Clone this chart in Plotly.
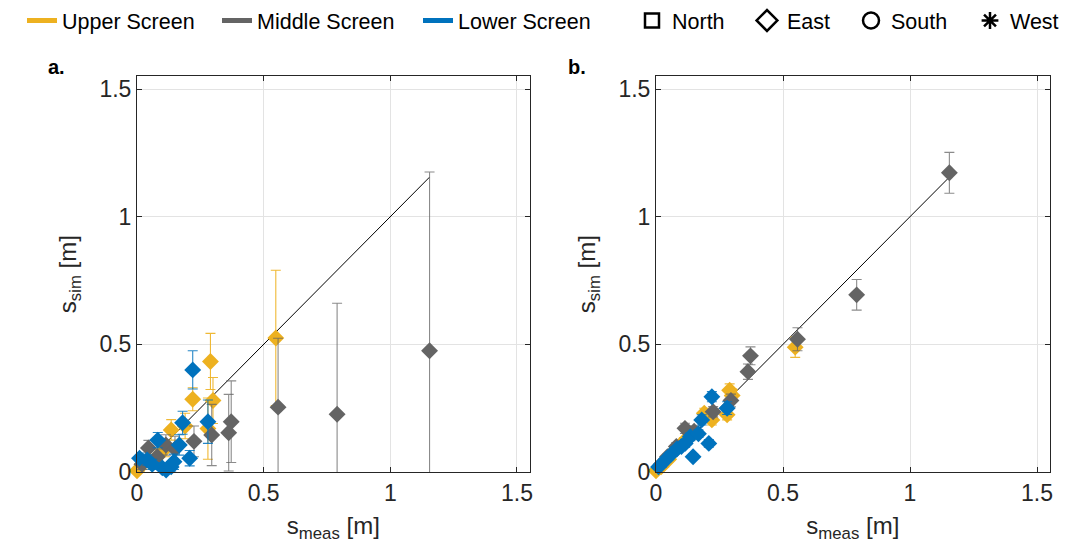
import plotly.graph_objects as go

# ---- measured vs simulated drawdown, per screen level ----
# Upper screen
upper_meas = [0.00, 0.02, 0.05, 0.08, 0.11, 0.135, 0.19, 0.22, 0.28, 0.29, 0.30, 0.548]
upper_sim_a = [0.005, 0.03, 0.04, 0.06, 0.09, 0.165, 0.18, 0.285, 0.17, 0.433, 0.28, 0.525]
upper_err_a = [0.01, 0.02, 0.02, 0.03, 0.03, 0.04, 0.05, 0.045, 0.12, 0.11, 0.09, 0.265]
upper_sim_b = [0.005, 0.02, 0.05, 0.09, 0.12, 0.14, 0.23, 0.204, 0.224, 0.32, 0.30, 0.489]
upper_err_b = [0.005, 0.01, 0.01, 0.01, 0.015, 0.015, 0.02, 0.02, 0.02, 0.025, 0.025, 0.04]

# Middle screen
middle_meas = [0.02, 0.045, 0.08, 0.114, 0.15, 0.225, 0.295, 0.362, 0.372, 0.557, 0.79, 1.155]
middle_sim_a = [0.03, 0.094, 0.06, 0.106, 0.09, 0.12, 0.145, 0.154, 0.197, 0.254, 0.226, 0.475]
middle_err_a = [0.02, 0.03, 0.03, 0.04, 0.05, 0.06, 0.12, 0.15, 0.16, 0.27, 0.435, 0.70]
middle_sim_b = [0.03, 0.06, 0.10, 0.171, 0.16, 0.236, 0.28, 0.393, 0.455, 0.52, 0.694, 1.172]
middle_err_b = [0.01, 0.01, 0.015, 0.02, 0.02, 0.02, 0.025, 0.03, 0.035, 0.045, 0.06, 0.08]

# Lower screen
lower_meas = [0.01, 0.04, 0.06, 0.082, 0.10, 0.115, 0.135, 0.146, 0.167, 0.18, 0.208, 0.22, 0.28]
lower_sim_a = [0.054, 0.047, 0.03, 0.125, 0.016, 0.008, 0.02, 0.04, 0.106, 0.193, 0.054, 0.40, 0.197]
lower_err_a = [0.02, 0.02, 0.02, 0.03, 0.02, 0.02, 0.02, 0.03, 0.04, 0.045, 0.03, 0.075, 0.085]
lower_sim_b = [0.02, 0.05, 0.07, 0.09, 0.10, 0.112, 0.138, 0.06, 0.15, 0.204, 0.112, 0.295, 0.25]
lower_err_b = [0.005, 0.01, 0.01, 0.01, 0.01, 0.015, 0.015, 0.01, 0.015, 0.02, 0.015, 0.02, 0.025]

tick_vals = [0, 0.5, 1, 1.5]
tick_text = ["0", "0.5", "1", "1.5"]
axis_range = [0, 1.55]

screens = [
    ("Upper Screen", "#EDB120", "rgba(237,177,32,0.9)",
     upper_meas, upper_sim_a, upper_err_a, upper_sim_b, upper_err_b),
    ("Middle Screen", "#646464", "rgba(100,100,100,0.75)",
     middle_meas, middle_sim_a, middle_err_a, middle_sim_b, middle_err_b),
    ("Lower Screen", "#0072BD", "rgba(0,114,189,0.85)",
     lower_meas, lower_sim_a, lower_err_a, lower_sim_b, lower_err_b),
]

orientations = [("North", "square-open", 14), ("East", "diamond-open", 16),
                ("South", "circle-open", 16), ("West", "asterisk-open", 14)]

# left edge (px) of each legend entry along the top row
legend_x_px = [22, 217, 418, 632, 747, 851, 970]

FONT = "Liberation Sans, Arial, sans-serif"
TXT = "#262626"
W, H = 1078, 550

fig = go.Figure()

# 1:1 reference line spanning the measured range
max_meas = max(upper_meas + middle_meas + lower_meas)
for xa, ya in [("x", "y"), ("x2", "y2")]:
    fig.add_trace(go.Scatter(x=[0, max_meas], y=[0, max_meas], mode="lines",
                             line=dict(color="black", width=1),
                             xaxis=xa, yaxis=ya, showlegend=False, hoverinfo="skip"))

for name, col, ecol, meas, sa, ea, sb, eb in screens:
    for xa, ya, sim, err in [("x", "y", sa, ea), ("x2", "y2", sb, eb)]:
        # error bars (clipped to the axes)
        fig.add_trace(go.Scatter(
            x=meas, y=sim, mode="markers", xaxis=xa, yaxis=ya,
            marker=dict(size=13, opacity=0, color=col),
            error_y=dict(type="data", array=err, symmetric=True,
                         color=ecol, thickness=1.1, width=5),
            showlegend=False, hoverinfo="skip", cliponaxis=True))
        # markers (allowed to overflow the axes)
        fig.add_trace(go.Scatter(
            x=meas, y=sim, mode="markers", xaxis=xa, yaxis=ya,
            marker=dict(symbol="diamond", size=13, color=col, line=dict(width=0)),
            showlegend=False, cliponaxis=False))

# legend entries: screen colours and orientation symbols, one legend box each
legend_layouts = {}
entries = [(s[0], dict(mode="lines", line=dict(color=s[1], width=5))) for s in screens]
entries += [(n, dict(mode="markers", marker=dict(symbol=sym, size=sz, color="black",
                                                   line=dict(color="black", width=2.5))))
            for n, sym, sz in orientations]
for i, ((name, style), xpx) in enumerate(zip(entries, legend_x_px)):
    key = "legend" if i == 0 else f"legend{i + 1}"
    fig.add_trace(go.Scatter(x=[None], y=[None], name=name, showlegend=True,
                             legend=key, **style))
    legend_layouts[key] = dict(orientation="h", x=xpx / W, xanchor="left",
                               y=1.0, yanchor="top",
                               font=dict(family=FONT, size=21.5, color="black"),
                               bgcolor="rgba(0,0,0,0)", itemsizing="trace")

axis_common = dict(range=axis_range, tickvals=tick_vals, ticktext=tick_text,
                   showgrid=True, gridcolor="#e3e3e3", gridwidth=1,
                   showline=True, linecolor=TXT, linewidth=1, mirror="allticks",
                   ticks="inside", ticklen=5, tickcolor=TXT, zeroline=False,
                   tickfont=dict(family=FONT, size=23, color=TXT))

xtitle = dict(text="s<sub>meas</sub> [m]", font=dict(family=FONT, size=24, color=TXT), standoff=12)
ytitle = dict(text="s<sub>sim</sub> [m]", font=dict(family=FONT, size=24, color=TXT), standoff=16)

fig.update_layout(
    width=W, height=H,
    margin=dict(l=0, r=0, t=0, b=0, autoexpand=False),
    paper_bgcolor="white", plot_bgcolor="white",
    font=dict(family=FONT, color=TXT),
    xaxis=dict(domain=[137 / W, 529.6 / W], anchor="y", title=xtitle, **axis_common),
    yaxis=dict(domain=[1 - 472 / H, 1 - 76.3 / H], anchor="x", title=ytitle, **axis_common),
    xaxis2=dict(domain=[656 / W, 1049.7 / W], anchor="y2", title=xtitle, **axis_common),
    yaxis2=dict(domain=[1 - 472 / H, 1 - 76.3 / H], anchor="x2", title=ytitle, **axis_common),
    annotations=[
        dict(text="<b>a.</b>", x=56 / W, y=1 - 67 / H, xref="paper", yref="paper",
             xanchor="center", yanchor="middle",
             showarrow=False, font=dict(family=FONT, size=20, color="black")),
        dict(text="<b>b.</b>", x=577 / W, y=1 - 67 / H, xref="paper", yref="paper",
             xanchor="center", yanchor="middle",
             showarrow=False, font=dict(family=FONT, size=20, color="black")),
    ],
    **legend_layouts,
)

fig.write_html("out.html")
